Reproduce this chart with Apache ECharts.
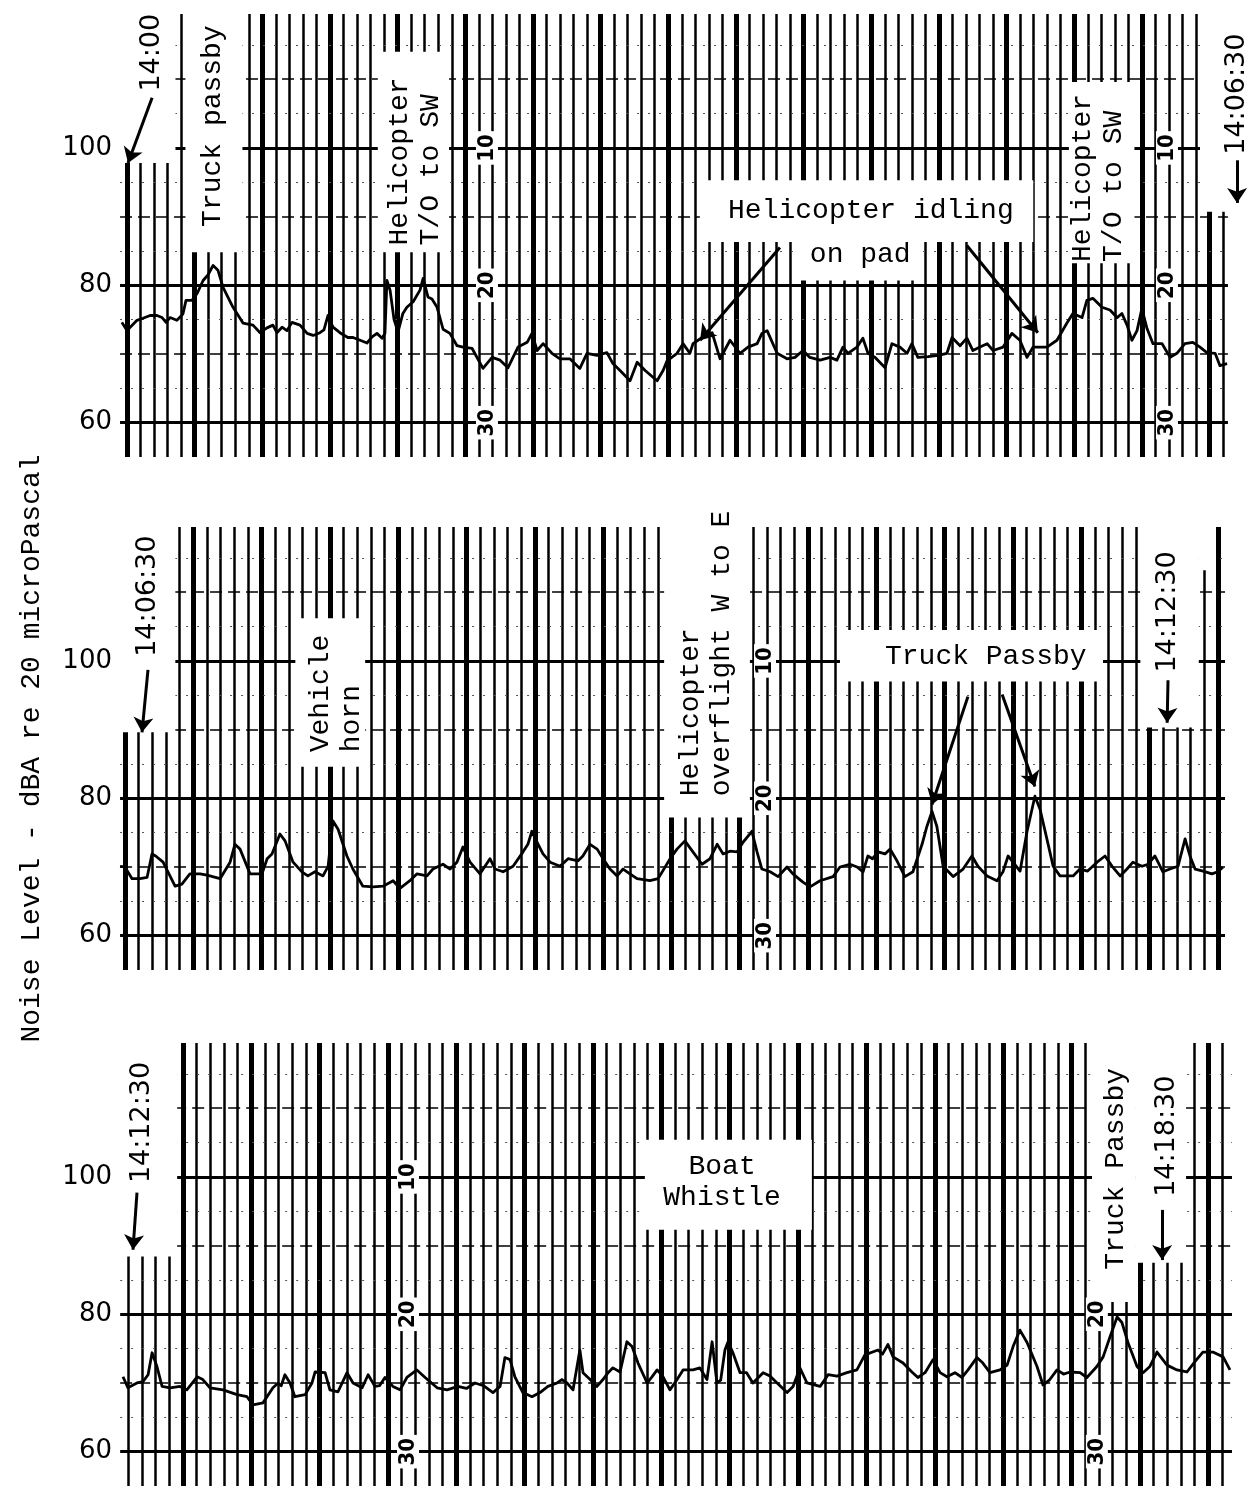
<!DOCTYPE html>
<html><head><meta charset="utf-8">
<script src="https://cdn.jsdelivr.net/npm/echarts/dist/echarts.min.js"></script>
<style>html,body{margin:0;padding:0;background:#fff}#c{width:1250px;height:1490px}</style>
</head><body><div id="c"></div>
<script>
// ---- axis / layout values (time in seconds from each strip's start mark) ----
const yTickLabels = [60, 80, 100];
const xRanges = [[-2.46, 394.04], [-7.02, 389.47], [-4.56, 391.93]];
const gridTops = [14, 527, 1043];

// chart-paper rulings: thick line every 5th minor line
const paperRulings = [
  { thick0: 0.0,   step: 4.748, kFrom: 0,  kTo: 81 },
  { thick0: -5.26, step: 4.793, kFrom: 0,  kTo: 80 },
  { thick0: 17.54, step: 4.796, kFrom: -4, kTo: 76 }
];
const paperSpan = [[-2.45, 386.3], [-7.0, 380.7], [-4.5, 385.6]];
const majorLevels = [60, 80, 100];
const midLevels = [70, 90, 110];
const minorLevels = [65, 75, 85, 95, 105, 115];
const scaleMarks = { 100: '10', 80: '20', 60: '30' };
const scaleCols = [
  [[126.3, [100, 80, 60]], [364.9, [100, 80, 60]]],
  [[219.3, [100, 80, 60]]],
  [[96.5, [100, 80, 60]], [338.2, [80, 60]]]
];

// ---- recorded noise level traces: [seconds, dBA] ----
const trace1 = [[-1.8,74.6],[0,73.4],[3.5,74.9],[5.6,75.2],[8.1,75.6],[10.5,75.6],[12.3,75.3],[13.7,74.6],[15.1,75.3],[17.5,74.9],[19.6,75.8],[20.7,77.8],[22.8,77.8],[24.6,78.8],[26.7,80.7],[28.4,81.5],[30.2,82.9],[31.9,82.2],[33.7,79.7],[37.2,76.8],[40.7,74.5],[44.2,74.2],[46.7,73.1],[49.1,73.8],[51.2,74.2],[52.6,73.1],[54.4,73.9],[56.1,73.4],[57.9,74.6],[60.7,74.2],[63.2,73.0],[65.3,72.7],[67.7,73.1],[69.1,73.5],[70.5,75.6],[72.3,73.9],[74.7,73.1],[77.5,72.4],[79.3,72.4],[81.8,72.0],[84.2,71.6],[86.0,72.5],[87.7,73.0],[89.5,72.3],[90.5,73.0],[91.2,80.7],[92.3,79.3],[93.7,75.0],[95.1,73.2],[96.8,75.9],[98.2,76.8],[100.4,77.6],[102.8,79.3],[103.9,81.0],[105.6,78.3],[107.0,78.0],[108.8,76.8],[110.9,73.6],[113.3,73.0],[115.8,71.2],[117.9,71.0],[121.1,70.8],[124.9,67.9],[128.1,69.5],[130.9,69.1],[133.7,68.0],[137.2,71.0],[140.4,71.7],[142.1,73.0],[143.9,70.5],[146.0,71.5],[149.1,70.1],[151.9,69.3],[155.4,69.3],[158.9,67.9],[161.4,70.1],[164.9,69.8],[168.4,70.2],[170.5,68.6],[173.0,67.6],[176.5,66.1],[179.0,68.8],[181.8,67.6],[186.0,66.1],[188.1,67.6],[189.5,69.0],[193.0,70.1],[195.1,71.5],[197.5,70.1],[198.6,71.5],[201.8,72.4],[205.3,73.1],[208.1,69.3],[211.6,72.0],[215.1,70.1],[217.9,71.0],[221.1,71.5],[222.8,73.0],[224.6,73.4],[228.1,70.1],[231.6,69.3],[234.4,69.5],[237.2,70.5],[239.6,69.5],[243.2,69.1],[246.7,69.5],[249.1,69.1],[251.2,71.0],[253.0,70.1],[256.1,71.0],[258.2,72.3],[260.0,70.1],[262.5,69.5],[266.0,68.0],[268.4,71.5],[271.2,71.0],[273.7,70.1],[275.4,71.5],[277.5,69.5],[281.1,69.6],[284.6,69.8],[287.7,70.1],[289.5,72.4],[292.3,71.2],[294.7,72.3],[296.8,70.5],[299.3,71.0],[301.8,71.5],[303.9,70.5],[307.4,71.0],[310.5,73.0],[313.3,72.0],[315.8,69.5],[317.9,71.0],[322.8,71.0],[326.3,72.0],[329.8,74.5],[331.9,75.9],[335.1,75.3],[336.8,77.8],[338.9,78.1],[342.1,76.8],[344.9,76.4],[347.4,75.3],[349.1,75.9],[350.9,74.2],[352.6,72.0],[354.4,73.4],[356.1,76.6],[357.9,73.7],[360.0,71.5],[363.2,71.5],[366.0,69.5],[368.4,70.1],[371.2,71.5],[374.0,71.7],[376.5,71.0],[378.9,70.2],[381.8,70.1],[383.5,68.3],[386.0,68.6]];
const trace2 = [[-7.0,70.1],[-5.3,70.0],[-2.8,68.3],[0,68.3],[2.5,68.5],[4.2,71.9],[5.5,71.6],[8.1,70.7],[12.3,67.2],[14.7,67.5],[17.5,69.0],[21.1,69.0],[23.5,68.8],[28.1,68.3],[31.6,70.7],[33.3,73.3],[35.1,72.6],[38.6,69.0],[42.8,69.0],[44.6,71.2],[46.3,71.9],[49.1,74.8],[50.9,73.8],[53.7,70.7],[56.8,69.3],[58.9,68.7],[61.4,69.3],[64.2,68.7],[66.0,70.1],[67.7,76.7],[69.5,75.5],[72.6,71.6],[74.7,69.7],[78.2,67.2],[81.8,67.1],[85.3,67.2],[88.8,68.0],[91.2,66.9],[94.7,68.0],[97.2,69.0],[100.7,68.7],[102.8,69.7],[106.3,70.4],[108.8,69.7],[111.2,70.7],[113.3,72.9],[115.8,70.7],[119.3,69.0],[122.8,71.2],[124.6,69.7],[127.4,69.3],[130.9,70.1],[134.4,72.2],[136.1,73.3],[137.5,75.2],[139.3,73.6],[141.4,71.9],[143.9,70.7],[147.4,70.1],[150.2,71.2],[153.7,70.9],[155.4,71.6],[157.9,73.3],[160.4,72.6],[162.5,71.2],[164.9,69.7],[167.4,68.7],[169.5,69.7],[171.9,69.0],[174.4,68.3],[178.9,68.0],[181.8,68.3],[186.0,71.2],[188.4,72.6],[191.2,73.8],[194.0,72.2],[197.2,70.4],[200.0,71.2],[202.5,73.3],[204.6,71.9],[207.0,72.3],[209.5,72.2],[211.6,73.6],[214.7,75.2],[216.5,72.2],[218.2,69.7],[221.1,69.3],[223.9,68.6],[227.0,70.0],[229.1,69.0],[232.6,67.8],[235.1,67.1],[238.6,68.0],[243.2,68.6],[245.6,70.0],[249.1,70.4],[251.6,70.0],[253.7,69.3],[255.4,71.6],[257.0,71.2],[259.0,72.2],[261.4,71.9],[263.2,72.6],[265.6,70.9],[268.4,68.6],[271.2,69.3],[274.4,73.3],[276.1,75.9],[277.9,78.1],[279.6,75.9],[281.8,70.1],[285.3,68.6],[288.8,69.7],[291.9,71.6],[294.0,70.1],[297.2,68.7],[300.7,68.0],[302.8,69.3],[304.6,71.6],[306.3,70.7],[308.8,69.4],[311.2,75.1],[314.0,80.3],[315.8,78.4],[318.2,74.1],[320.4,70.1],[322.8,68.7],[327.4,68.7],[329.8,69.7],[332.5,69.4],[335.8,70.7],[338.6,71.6],[341.1,70.1],[343.9,68.7],[346.3,69.7],[348.4,70.7],[351.6,70.1],[353.7,70.4],[356.1,71.6],[358.9,69.3],[361.4,69.7],[364.2,70.1],[366.7,74.1],[368.4,71.6],[370.2,69.7],[373.0,69.4],[376.1,69.0],[378.2,69.3],[380.0,70.0]];
const trace3 = [[-3.5,70.9],[-1.8,69.3],[1.4,70.0],[3.5,70.2],[5.3,71.2],[6.7,74.4],[8.4,72.4],[10.2,69.5],[13.0,69.3],[16.5,69.5],[18.9,69.0],[22.5,70.9],[24.5,70.5],[27.0,69.3],[31.6,69.0],[36.5,68.3],[40.0,68.0],[42.1,66.8],[45.6,67.1],[49.1,69.3],[50.9,70.0],[52.0,69.6],[53.3,71.2],[55.1,70.0],[56.8,68.0],[60.4,68.3],[62.8,70.0],[63.9,71.6],[67.4,71.5],[69.1,69.0],[71.9,68.7],[75.1,71.5],[77.2,70.0],[80.4,69.3],[82.5,71.2],[84.9,69.5],[86.5,69.6],[88.4,70.8],[91.2,69.5],[93.7,69.0],[96.1,70.8],[99.6,71.9],[102.5,70.8],[106.7,69.3],[110.2,69.0],[114.0,69.5],[117.0,69.2],[120.0,70.0],[123.0,69.6],[126.3,68.6],[128.8,69.5],[130.5,73.7],[132.3,73.4],[134.0,70.9],[136.8,68.6],[140.0,68.0],[142.8,68.6],[145.6,69.5],[148.8,70.0],[150.5,70.5],[152.3,70.0],[154.4,69.0],[156.8,74.8],[157.9,71.5],[160.4,70.5],[162.8,69.5],[164.9,70.5],[166.7,71.5],[168.4,72.2],[170.9,71.6],[173.3,76.0],[175.1,75.3],[177.2,72.9],[180.4,70.0],[182.1,70.9],[183.9,71.9],[186.0,70.9],[188.4,69.0],[190.9,70.5],[193.0,71.9],[196.5,71.9],[198.9,72.2],[201.4,70.5],[203.2,76.0],[204.9,70.0],[206.2,70.4],[207.7,74.8],[208.8,76.0],[210.5,74.4],[213.0,71.5],[215.3,71.5],[217.5,70.0],[221.1,71.5],[223.5,71.0],[226.0,70.0],[229.5,68.6],[231.6,69.5],[234.0,72.2],[236.5,70.0],[241.1,69.5],[243.9,71.2],[247.0,71.0],[250.5,71.5],[254.0,71.9],[256.8,74.1],[261.4,74.8],[263.0,74.2],[264.9,75.6],[266.7,73.8],[270.2,72.9],[273.3,71.6],[275.4,70.8],[277.9,71.5],[280.7,73.4],[283.2,71.5],[285.6,70.9],[288.4,71.5],[290.9,70.8],[293.0,71.9],[296.1,73.7],[298.2,72.9],[300.7,71.5],[304.2,71.9],[306.7,72.6],[308.8,75.3],[311.2,77.7],[313.7,75.9],[317.2,72.4],[319.3,69.7],[321.5,70.4],[324.2,71.9],[326.5,71.3],[328.8,71.6],[332.3,71.5],[334.7,70.8],[338.2,72.4],[340.4,73.8],[342.8,76.7],[345.3,79.6],[347.0,78.8],[349.1,75.9],[352.3,72.4],[354.4,71.5],[356.8,72.4],[359.3,74.5],[362.8,72.6],[366.3,71.9],[369.8,71.6],[372.6,73.1],[375.4,74.5],[378.9,74.5],[382.5,73.8],[384.9,71.9]];
const traces = [trace1, trace2, trace3];

// ---- pasted-over (white) patches: [[t0, top], [t1, bottom]] ----
const masks = [
  [[[-2.5,119.5],[17,97.8]], [[20.5,119.5],[40.5,84.8]], [[88,114],[113,84.8]], [[201,95.3],[318,86.3]], [[236,86.6],[278,80.7]], [[330.5,109.6],[353.5,83.2]], [[376.5,119.5],[394,90.7]]],
  [[[-7.1,119.5],[12.4,89.6]], [[54.5,106.2],[79,84.6]], [[183.9,119.5],[214,77.2]], [[245.6,104.5],[337.9,97.0]], [[351,119.5],[371.5,90.3]], [[371.5,119.5],[376,113.2]]],
  [[[-4.6,119.5],[15.5,88.4]], [[179.6,105.4],[238.2,92.3]], [[336.5,119.5],[351.6,81.8]], [[351.6,119.5],[369.5,87.5]]]
];

// ---- annotations: [t, level, text, kind, rotate, align] ----
const notes = [
  [[8.8,108.2,'14:00','time',90,'left'], [30.2,88.5,'Truck passby','note',90,'left'], [101.1,85.8,'Helicopter\nT/O to SW','note',90,'left'], [210.9,90.9,'Helicopter idling','note',0,'left'], [239.6,84.4,'on pad','note',0,'left'], [340.7,83.4,'Helicopter\nT/O to SW','note',90,'left'], [389.5,99.0,'14:06:30','time',90,'left']],
  [[2.8,100.6,'14:06:30','time',90,'left'], [68.8,86.7,'Vehicle\nhorn','note',90,'left'], [198.6,80.3,'Helicopter\noverflight W to E','note',90,'left'], [261.4,100.6,'Truck Passby','note',0,'left'], [360.7,98.3,'14:12:30','time',90,'left']],
  [[3.2,99.1,'14:12:30','time',90,'left'], [206.7,99.3,'Boat\nWhistle','note',0,'center'], [344.6,86.5,'Truck Passby','note',90,'left'], [362.8,97.1,'14:18:30','time',90,'left']]
];
const arrows = [
  [[[8.8,107.3],[0.35,97.8]], [[389.5,98.2],[389.5,92.0]], [[229.1,85.5],[201.1,72.0]], [[294.7,85.8],[319.6,73.1]]],
  [[[2.8,98.7],[0.7,89.6]], [[360.7,97.2],[360.4,91.0]], [[290.5,94.8],[277.9,79.1]], [[302.5,95.1],[314.0,81.7]]],
  [[[1.4,97.7],[0,89.4]], [[361.1,95.2],[361.1,87.9]]]
];

const FONT_TIME = "'DejaVu Sans', sans-serif";
const FONT_NOTE = "'Liberation Mono', 'Courier New', monospace";
const FONT_SCALE = "'DejaVu Sans Condensed', 'DejaVu Sans', sans-serif";

const grids = [], xAxes = [], yAxes = [], series = [];
for (let i = 0; i < 3; i++) {
  grids.push({ left: 120, width: 1130, top: gridTops[i], height: 443, outerBoundsMode: 'none', containLabel: false });
  xAxes.push({ gridIndex: i, type: 'value', min: xRanges[i][0], max: xRanges[i][1], show: false });
  const y = {
    gridIndex: i, type: 'value', min: 55, max: 119.5, interval: 5,
    axisLine: { show: false }, axisTick: { show: false }, splitLine: { show: false },
    axisLabel: { margin: 8, color: '#000', fontFamily: FONT_TIME, fontSize: 26,
      formatter: v => (yTickLabels.indexOf(Math.round(v * 10) / 10) >= 0 ? String(v) : '') }
  };
  if (i === 1) {
    y.name = 'Noise Level - dBA re 20 microPascal';
    y.nameLocation = 'middle';
    y.nameGap = 74;
    y.nameTextStyle = { fontFamily: FONT_NOTE, fontSize: 28, color: '#000' };
  }
  yAxes.push(y);

  // paper rulings
  const r = paperRulings[i];
  const lines = [];
  for (let k = r.kFrom; k <= r.kTo; k++) {
    const thick = ((k % 5) + 5) % 5 === 0;
    lines.push({ xAxis: r.thick0 + k * r.step, lineStyle: { width: thick ? 5 : 2.5, color: '#000', type: 'solid' } });
  }
  const [a, b] = paperSpan[i];
  minorLevels.forEach(v => lines.push([{ coord: [a, v], lineStyle: { width: 1, color: '#555', type: [2, 9] } }, { coord: [b, v] }]));
  midLevels.forEach(v => lines.push([{ coord: [a, v], lineStyle: { width: 1.6, color: '#000', type: [12, 6] } }, { coord: [b, v] }]));
  majorLevels.forEach(v => lines.push([{ coord: [a, v], lineStyle: { width: 3, color: '#000', type: 'solid' } }, { coord: [b, v] }]));
  series.push({
    type: 'line', xAxisIndex: i, yAxisIndex: i, data: [], silent: true,
    markLine: { z: 1, silent: true, symbol: 'none', animation: false, label: { show: false }, emphasis: { disabled: true }, data: lines }
  });
  // white pasted patches
  series.push({
    type: 'line', xAxisIndex: i, yAxisIndex: i, data: [], silent: true,
    markArea: { z: 2, silent: true, animation: false, itemStyle: { color: '#fff', borderWidth: 0 }, label: { show: false }, emphasis: { disabled: true },
      data: masks[i].map(m => [{ coord: m[0] }, { coord: m[1] }]) }
  });
  // trace
  series.push({
    type: 'line', xAxisIndex: i, yAxisIndex: i, z: 3, data: traces[i], symbol: 'none', silent: true,
    lineStyle: { color: '#000', width: 2.8, join: 'round' }, animation: false
  });
  // annotations + scale marks
  const pts = notes[i].map(n => ({
    value: [n[0], n[1]],
    label: {
      show: true, position: 'inside', formatter: n[2], rotate: n[4], align: n[5], verticalAlign: 'middle',
      color: '#000', opacity: 1, textBorderWidth: 0, textBorderColor: 'transparent',
      fontFamily: n[3] === 'time' ? FONT_TIME : FONT_NOTE,
      fontSize: n[3] === 'time' ? 27 : 28, lineHeight: 31
    }
  }));
  scaleCols[i].forEach(c => c[1].forEach(lv => pts.push({
    value: [c[0], lv],
    label: { show: true, position: 'inside', formatter: scaleMarks[lv], rotate: 90, align: 'center', verticalAlign: 'middle',
      color: '#000', opacity: 1, textBorderWidth: 0, textBorderColor: 'transparent', fontFamily: FONT_SCALE, fontWeight: 'bold', fontSize: 22,
      backgroundColor: '#fff', padding: [0, 3] }
  })));
  series.push({
    type: 'scatter', xAxisIndex: i, yAxisIndex: i, z: 4, symbolSize: 1, silent: true, animation: false,
    itemStyle: { color: '#000', opacity: 0 }, data: pts,
    markLine: { z: 5, silent: true, animation: false, symbol: ['none', 'arrow'], symbolSize: 15,
      label: { show: false }, emphasis: { disabled: true },
      lineStyle: { color: '#000', width: 3, type: 'solid', opacity: 1 },
      data: arrows[i].map(p => [{ coord: p[0] }, { coord: p[1] }]) }
  });
}

const chart = echarts.init(document.getElementById('c'), null, { renderer: 'canvas' });
chart.setOption({
  animation: false,
  backgroundColor: '#fff',
  grid: grids, xAxis: xAxes, yAxis: yAxes, series: series
});
</script>
</body></html>
